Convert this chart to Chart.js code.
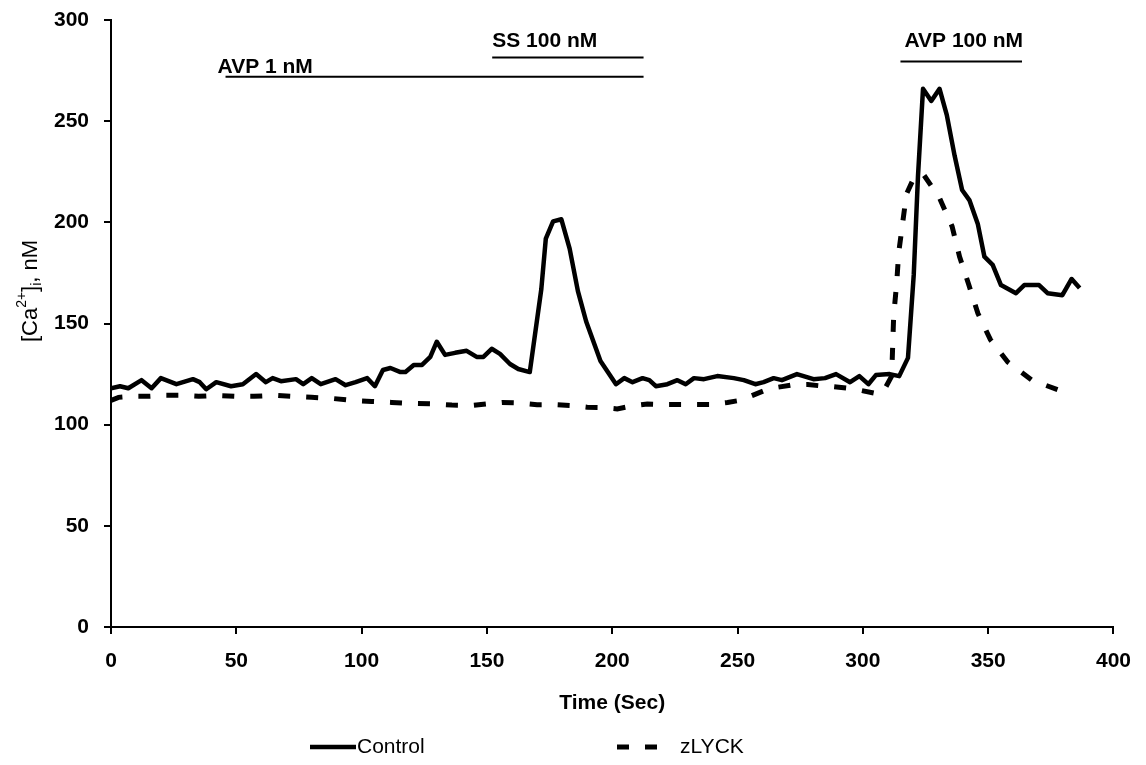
<!DOCTYPE html>
<html>
<head>
<meta charset="utf-8">
<script src="https://cdn.jsdelivr.net/npm/chart.js@4.4.0/dist/chart.umd.min.js"></script>
<style>
  html, body { margin: 0; padding: 0; background: #fff; }
  #wrap { width: 1146px; height: 765px; }
</style>
</head>
<body>
<div id="wrap"><canvas id="calciumChart"></canvas></div>
<script>
// values (time in sec, [Ca2+]i in nM)
var controlTime = [0, 3.6, 6.9, 12.2, 16.2, 19.9, 26.1, 32.7, 35.4, 38, 42, 47.9, 52.6, 57.9, 61.8, 64.5, 67.8, 73.8, 76.7, 80.1,
    83.7, 89.6, 93.6, 97.6, 102.2, 105.3, 108.5, 111.5, 115.5, 117.5, 120.8, 124.1, 127.4, 130, 133.3, 137.3, 141.9, 145.9, 148.6, 151.9,
    155.2, 159.2, 162.5, 167.1, 171.7, 173.5, 176.4, 179.7, 183, 186.3, 189.6, 195.3, 201.5, 204.8, 208.1, 212.1, 214.8, 217.4, 222, 226,
    229.3, 232.6, 236.6, 241.9, 248.5, 252.5, 257.1, 260.4, 264.4, 267.7, 273.7, 280.3, 284.9, 289.3, 294.9, 298.6, 302.2, 305.2, 310.7, 314.5,
    318, 320.3, 322, 324, 327.3, 330.6, 333.5, 336.6, 339.6, 342.5, 345.9, 348.5, 351.8, 355.1, 361.1, 364.4, 370.3, 373.7, 379.6, 383.3, 386.5];
var controlCa = [118, 119, 118, 122, 118, 123, 120, 122.5, 121, 117.5, 121, 119, 120, 125, 121, 123, 121.5, 122.5, 120, 123,
    120, 122.5, 119.5, 121, 123, 119, 127, 128, 126, 126, 129.5, 129.5, 133.5, 141, 134.5, 135.5, 136.5, 133.5, 133.5, 137.5,
    135, 130, 127.5, 126, 167, 192, 200.5, 201.5, 187, 166, 151, 131.5, 120, 123, 121, 123, 122, 119, 120, 122,
    120, 123, 122.5, 124, 123, 122, 120, 121, 123, 122, 125, 122.5, 123, 125, 121, 124, 120, 124.5, 125, 124,
    133, 174, 223, 266, 260, 266, 253, 233, 216, 211, 199, 183, 179, 169, 165, 169, 169, 165, 164, 172, 167.5];

var zlyckTime = [0, 3, 8, 15, 22, 28, 35, 42, 50, 57, 65, 72, 80, 88, 96, 104, 112, 120, 128, 136,
    144, 150, 156, 162, 170, 178, 184, 190, 196, 202, 208, 214, 220, 227, 233, 239, 246, 251, 256, 261,
    266, 272, 278, 283, 288, 294, 299, 305, 308, 311.5, 312.3, 313.5, 314.3, 315.8, 317.4, 320, 324, 330.6, 335.6, 338.6,
    342.3, 345.9, 350.9, 357.8, 367.4, 378.3, 381];
var zlyckCa = [112, 113.5, 114, 114, 114.5, 114.5, 114, 114.5, 114, 114, 114.5, 114, 113.5, 113, 112, 111.5, 111, 110.5, 110.3, 109.7,
    109.5, 110.3, 111, 110.8, 109.8, 109.8, 109.4, 108.6, 108.5, 107.8, 109.3, 110.2, 110, 110, 110, 110, 111, 112, 114.5, 117,
    118.5, 119.7, 119.8, 119.2, 118.8, 118, 117, 115.5, 116, 124, 154, 170, 185, 199, 214, 221, 224, 212, 198, 183,
    169, 155, 142, 131, 122, 117, 115];

var seriesNames = ["Control", "zLYCK"];
var xTicks = [0, 50, 100, 150, 200, 250, 300, 350, 400];
var yTicks = [0, 50, 100, 150, 200, 250, 300];

// treatment bars drawn above the traces
var treatmentLabels = ["AVP 1 nM", "SS 100 nM", "AVP 100 nM"];
var treatmentStart = [45.7, 152.1, 315];
var treatmentEnd = [212.5, 212.5, 363.5];
var treatmentLevel = [272, 281.5, 279.5];

function toPoints(xs, ys) {
    return xs.map(function (x, i) { return { x: x, y: ys[i] }; });
}

var tickFont = { family: "Liberation Sans, Arial, sans-serif", size: 21, weight: "bold" };

var treatmentPlugin = {
    id: "treatments",
    afterDatasetsDraw: function (chart, args, opts) {
        var ctx = chart.ctx;
        var xs = chart.scales.x, ys = chart.scales.y;
        ctx.save();
        ctx.strokeStyle = "#000";
        ctx.fillStyle = "#000";
        ctx.lineWidth = 2;
        ctx.font = "bold 21px Liberation Sans, Arial, sans-serif";
        ctx.textBaseline = "middle";
        ctx.textAlign = "left";
        for (var i = 0; i < treatmentLabels.length; i++) {
            var x1 = xs.getPixelForValue(treatmentStart[i]);
            var x2 = xs.getPixelForValue(treatmentEnd[i]);
            var y = ys.getPixelForValue(treatmentLevel[i]);
            ctx.beginPath();
            ctx.moveTo(x1, y);
            ctx.lineTo(x2, y);
            ctx.stroke();
            ctx.fillText(treatmentLabels[i], x1 + opts.labelDx[i], y - opts.labelDy[i]);
        }
        ctx.restore();
    }
};

var yTitlePlugin = {
    id: "yTitle",
    afterDraw: function (chart) {
        var ctx = chart.ctx;
        var big = "22px Liberation Sans, Arial, sans-serif";
        var small = "14px Liberation Sans, Arial, sans-serif";
        var parts = [
            { t: "[Ca", f: big, dy: 0 },
            { t: "2+", f: small, dy: -9 },
            { t: "]", f: big, dy: 0 },
            { t: "i", f: small, dy: 6 },
            { t: ", nM", f: big, dy: 0 }
        ];
        ctx.save();
        var total = 0;
        parts.forEach(function (p) { ctx.font = p.f; p.w = ctx.measureText(p.t).width; total += p.w; });
        ctx.translate(31, 291);
        ctx.rotate(-Math.PI / 2);
        ctx.fillStyle = "#000";
        ctx.textBaseline = "middle";
        var x = -total / 2;
        parts.forEach(function (p) {
            ctx.font = p.f;
            ctx.fillText(p.t, x, p.dy);
            x += p.w;
        });
        ctx.restore();
    }
};

var legendPlugin = {
    id: "bottomLegend",
    afterDraw: function (chart) {
        var ctx = chart.ctx;
        var y = 747;
        var items = [{ x: 310, len: 46, text: 357 }, { x: 617, len: 40, text: 680 }];
        ctx.save();
        ctx.font = "21px Liberation Sans, Arial, sans-serif";
        ctx.textBaseline = "middle";
        ctx.fillStyle = "#000";
        chart.data.datasets.forEach(function (ds, i) {
            ctx.strokeStyle = ds.borderColor;
            ctx.lineWidth = ds.borderWidth;
            ctx.setLineDash(ds.borderDash || []);
            ctx.beginPath();
            ctx.moveTo(items[i].x, y);
            ctx.lineTo(items[i].x + items[i].len, y);
            ctx.stroke();
            ctx.fillText(ds.label, items[i].text, y);
        });
        ctx.restore();
    }
};

new Chart("calciumChart", {
    type: "line",
    data: {
        datasets: [{
            label: seriesNames[0],
            data: toPoints(controlTime, controlCa),
            borderColor: "#000",
            borderWidth: 4.5,
            borderJoinStyle: "round",
            pointRadius: 0,
            tension: 0,
            fill: false
        }, {
            label: seriesNames[1],
            data: toPoints(zlyckTime, zlyckCa),
            borderColor: "#000",
            borderWidth: 5,
            borderDash: [12, 16],
            borderCapStyle: "butt",
            pointRadius: 0,
            tension: 0,
            fill: false
        }]
    },
    options: {
        responsive: true,
        maintainAspectRatio: false,
        animation: false,
        layout: { padding: { top: 20, right: 28, bottom: 40, left: 0 } },
        plugins: {
            legend: { display: false },
            tooltip: { enabled: false },
            treatments: { labelDx: [-8, 0, 4], labelDy: [9, 16, 20] }
        },
        scales: {
            x: {
                type: "linear",
                min: 0,
                max: 400,
                afterBuildTicks: function (scale) { scale.ticks = xTicks.map(function (v) { return { value: v }; }); },
                afterFit: function (scale) { scale.height = 98; },
                ticks: { color: "#000", font: tickFont, padding: 15, maxRotation: 0 },
                grid: { drawOnChartArea: false, drawTicks: true, tickLength: 7, color: "#000", lineWidth: 2 },
                border: { display: true, color: "#000", width: 2 },
                title: { display: true, text: "Time (Sec)", color: "#000", font: tickFont, padding: { top: 0, bottom: 9 } }
            },
            y: {
                min: 0,
                max: 300,
                afterBuildTicks: function (scale) { scale.ticks = yTicks.map(function (v) { return { value: v }; }); },
                afterFit: function (scale) {
                    scale.width = 111;
                    scale.paddingTop = 0;
                    scale.paddingBottom = 0;
                },
                ticks: { color: "#000", font: tickFont, padding: 15 },
                grid: { drawOnChartArea: false, drawTicks: true, tickLength: 7, color: "#000", lineWidth: 2 },
                border: { display: true, color: "#000", width: 2 }
            }
        }
    },
    plugins: [treatmentPlugin, yTitlePlugin, legendPlugin]
});
</script>
</body>
</html>
